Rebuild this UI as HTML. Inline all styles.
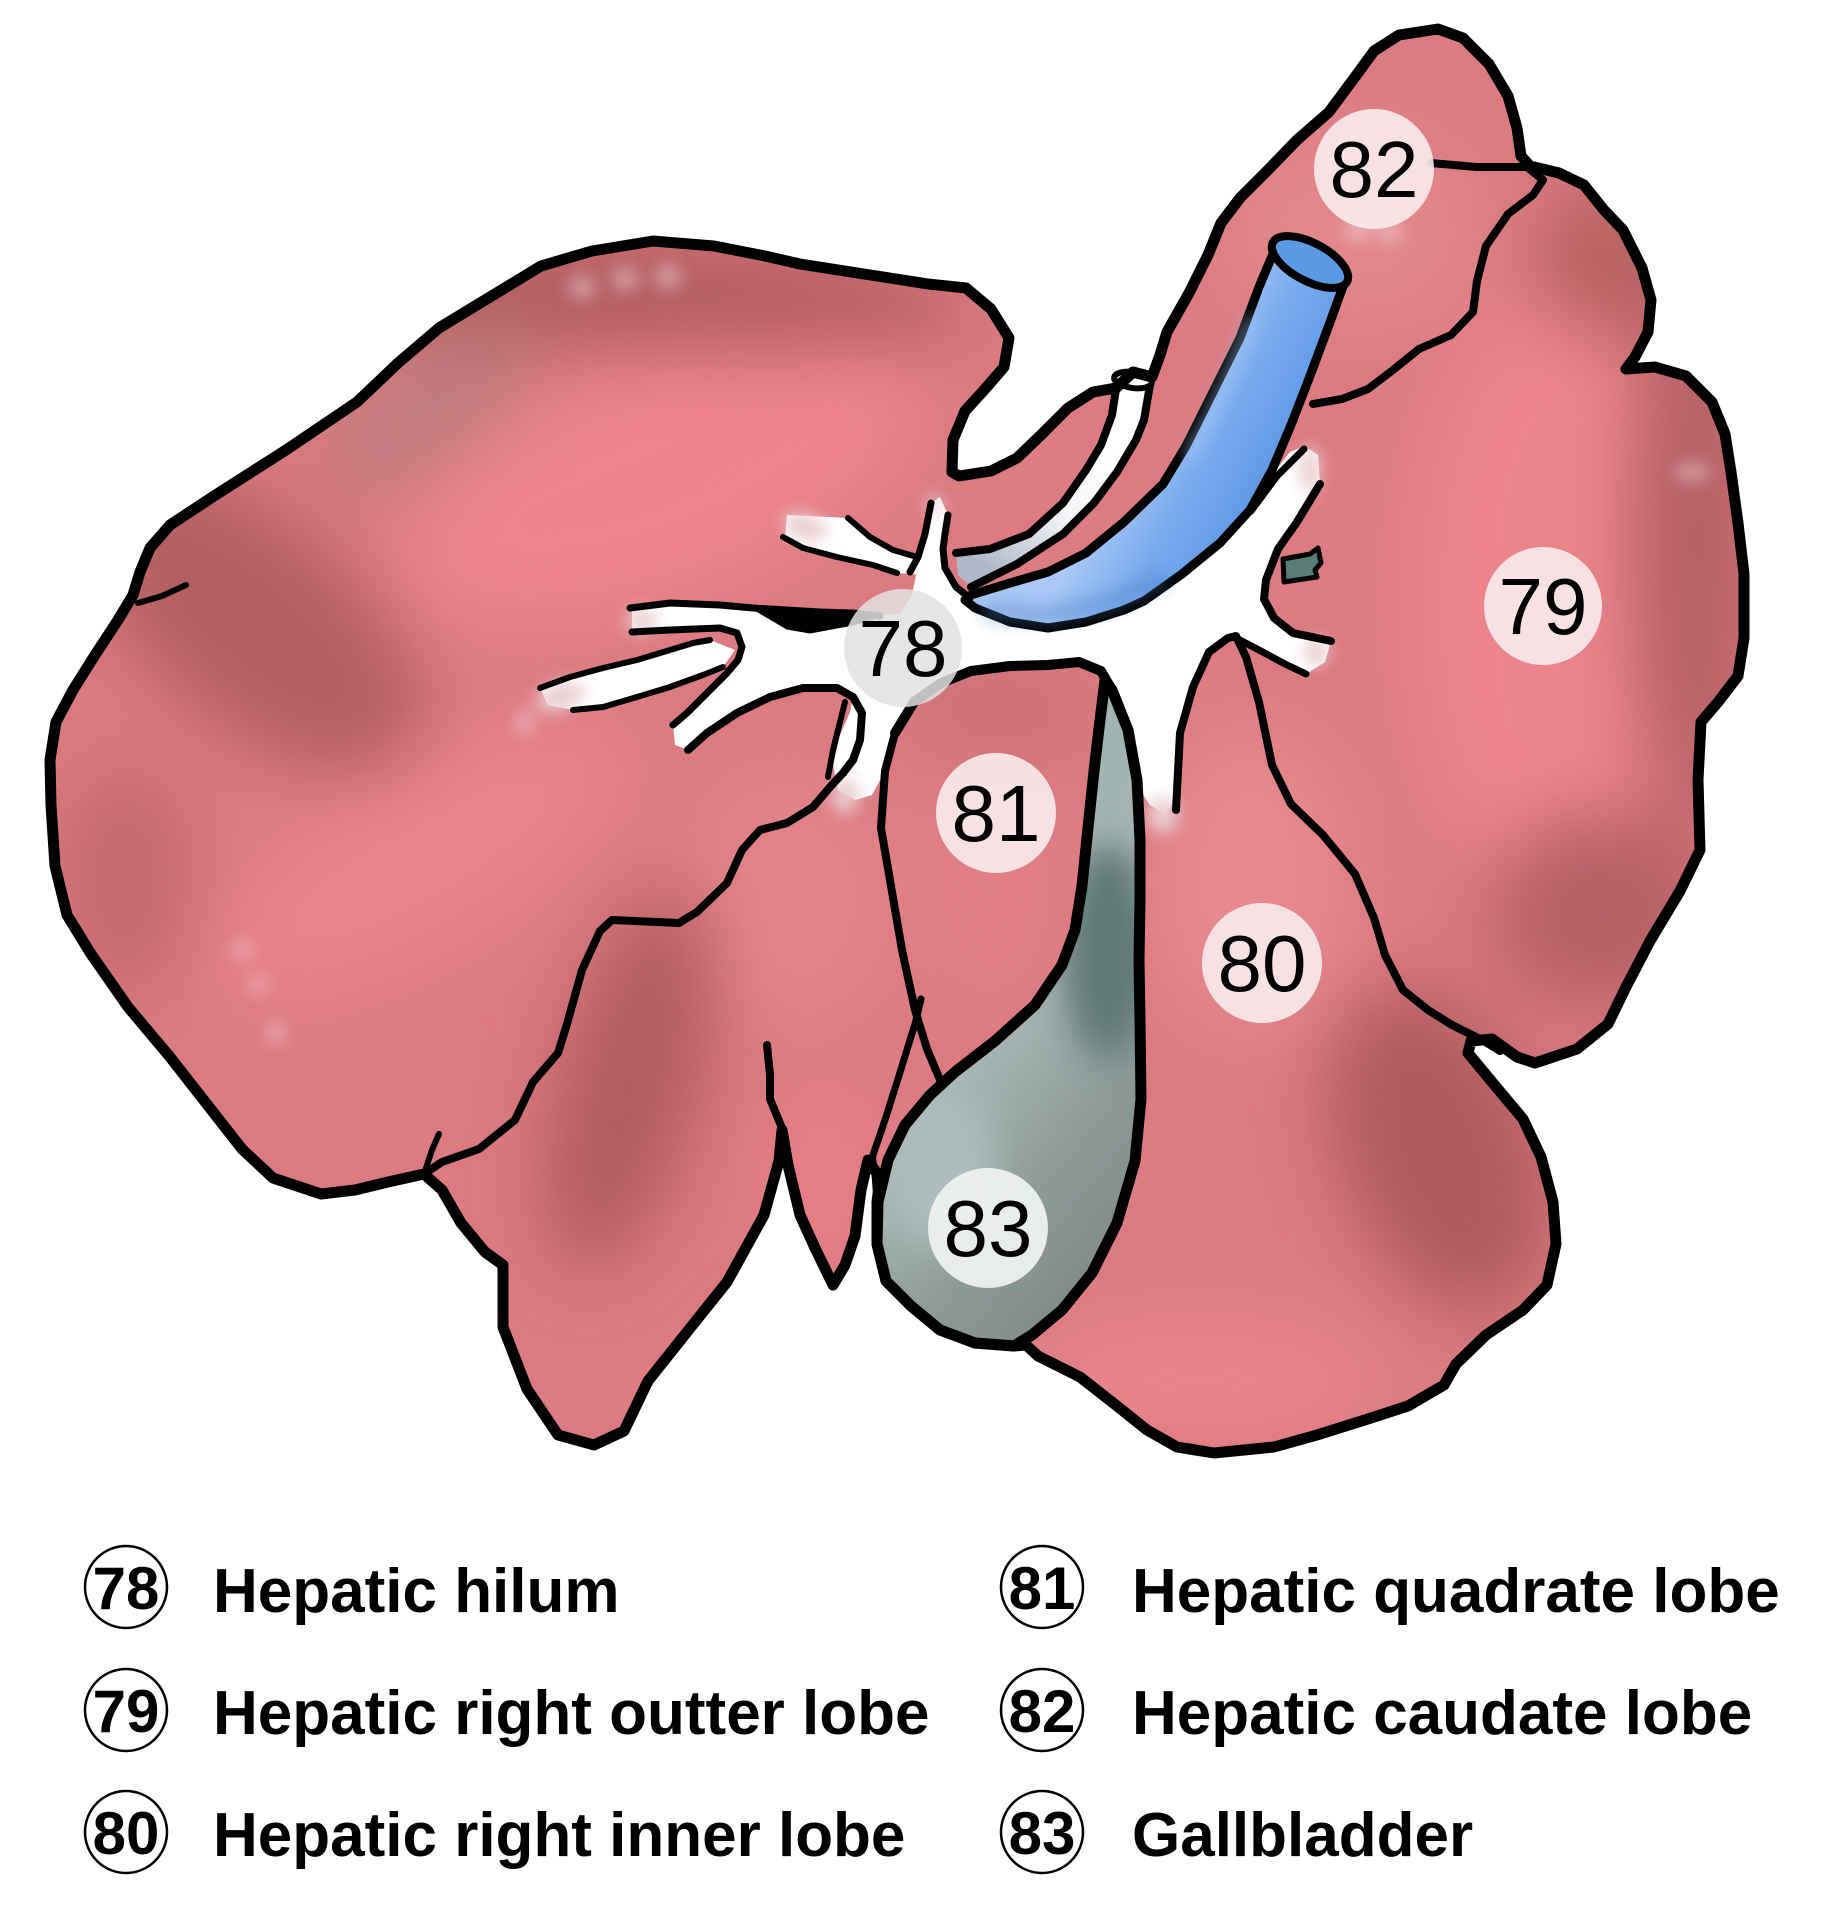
<!DOCTYPE html>
<html><head><meta charset="utf-8">
<style>
html,body{margin:0;padding:0;background:#fff;}
svg{display:block;}
</style></head>
<body>
<svg width="1844" height="1906" viewBox="0 0 1844 1906" xmlns="http://www.w3.org/2000/svg">
<defs>
  <clipPath id="silc">
    <polygon id="silp" points="51,805 50,760 56,722 73,690 95,655 118,620 133,595 140,572 150,548 170,525 214,496 286,450 357,402 398,363 439,328 490,297 541,266 592,251 653,241 714,246 765,256 800,264 864,274 928,284 966,288 991,309 1009,338 1004,367 985,389 965,411 953,440 952,472 959,476 991,471 1017,458 1042,434 1068,408 1093,392 1116,388 1133,372 1152,377 1160,355 1167,332 1189,293 1208,255 1221,223 1240,198 1266,172 1297,140 1329,112 1355,77 1374,51 1399,35 1438,29 1463,38 1489,64 1508,96 1517,128 1521,156 1530,166 1559,173 1584,185 1604,210 1623,230 1642,268 1651,300 1648,332 1635,357 1626,369 1655,367 1686,376 1712,402 1725,434 1731,472 1738,523 1744,574 1744,638 1738,676 1718,702 1701,722 1698,780 1700,850 1680,891 1650,941 1626,987 1608,1024 1577,1049 1535,1063 1517,1057 1492,1039 1471,1041 1468,1053 1492,1082 1523,1119 1541,1157 1553,1202 1556,1244 1547,1285 1523,1310 1486,1335 1456,1364 1444,1385 1408,1406 1371,1418 1317,1435 1274,1447 1214,1453 1177,1447 1147,1430 1117,1406 1080,1377 1038,1356 1026,1345 1014,1346 975,1343 940,1330 911,1306 886,1281 877,1244 877,1202 880,1178 868,1160 861,1190 855,1236 845,1265 833,1285 815,1248 800,1215 788,1165 782,1130 779,1161 764,1215 727,1282 691,1327 648,1381 624,1431 594,1445 558,1435 527,1389 503,1327 503,1265 485,1252 461,1223 442,1190 424,1174 388,1182 355,1190 321,1194 273,1178 242,1149 170,1057 128,1007 91,954 67,915 55,866"/>
  </clipPath>
  <clipPath id="gbc">
    <polygon points="1105,680 1100,720 1094,771 1088,828 1082,886 1075,930 1062,965 1035,1005 995,1041 955,1072 930,1095 905,1125 888,1160 878,1202 877,1244 886,1281 911,1306 940,1330 975,1343 1014,1346 1032,1335 1062,1310 1092,1273 1117,1223 1135,1161 1141,1099 1140,1020 1139,960 1140,900 1140,840 1137,780 1128,730 1112,690"/>
  </clipPath>
  <filter id="blur" filterUnits="userSpaceOnUse" x="0" y="0" width="1844" height="1906">
    <feGaussianBlur stdDeviation="38"/>
  </filter>
  <filter id="blur2" filterUnits="userSpaceOnUse" x="0" y="0" width="1844" height="1906">
    <feGaussianBlur stdDeviation="8"/>
  </filter>
  <filter id="blur3" filterUnits="userSpaceOnUse" x="0" y="0" width="1844" height="1906">
    <feGaussianBlur stdDeviation="18"/>
  </filter>
  <linearGradient id="veinG" gradientUnits="userSpaceOnUse" x1="1170" y1="380" x2="1300" y2="450">
    <stop offset="0" stop-color="#a9c8f5"/>
    <stop offset="0.45" stop-color="#79aaee"/>
    <stop offset="1" stop-color="#5b95e6"/>
  </linearGradient>
  <linearGradient id="ductG" gradientUnits="userSpaceOnUse" x1="1110" y1="440" x2="1010" y2="585">
    <stop offset="0" stop-color="#ffffff"/>
    <stop offset="0.5" stop-color="#f4f5f8"/>
    <stop offset="1" stop-color="#aeb8c8"/>
  </linearGradient>
  <linearGradient id="gbG" gradientUnits="userSpaceOnUse" x1="900" y1="1120" x2="1140" y2="1320">
    <stop offset="0" stop-color="#abbab8"/>
    <stop offset="0.45" stop-color="#8e9b99"/>
    <stop offset="1" stop-color="#7a8382"/>
  </linearGradient>
</defs>

<!-- liver base fill with shading -->
<g clip-path="url(#silc)">
  <rect x="0" y="0" width="1844" height="1500" fill="#dc7b82"/>
  <g filter="url(#blur)">
    <ellipse cx="660" cy="480" rx="270" ry="115" transform="rotate(-20 660 480)" fill="#ed848c"/>
    <ellipse cx="420" cy="860" rx="230" ry="85" transform="rotate(-30 420 860)" fill="#ea838b"/>
    <ellipse cx="790" cy="900" rx="100" ry="120" fill="#e3848a"/>
    <ellipse cx="825" cy="1180" rx="35" ry="90" fill="#ec8189"/>
    <ellipse cx="1550" cy="600" rx="140" ry="300" fill="#ec848b"/>
    <ellipse cx="1250" cy="880" rx="100" ry="150" fill="#e6898f"/>
    <ellipse cx="1200" cy="1380" rx="180" ry="60" fill="#e8848b"/>
    <ellipse cx="990" cy="870" rx="70" ry="150" fill="#e07e85"/>
    <ellipse cx="1350" cy="230" rx="130" ry="100" fill="#e1878a"/>
    <ellipse cx="640" cy="295" rx="330" ry="55" transform="rotate(3 640 295)" fill="#b05b5e"/>
    <ellipse cx="250" cy="620" rx="210" ry="100" transform="rotate(40 250 620)" fill="#b25e61"/>
    <ellipse cx="430" cy="410" rx="120" ry="55" transform="rotate(-35 430 410)" fill="#bd7b7c"/>
    <ellipse cx="125" cy="880" rx="70" ry="120" fill="#c46a70"/>
    <ellipse cx="630" cy="1080" rx="70" ry="200" transform="rotate(15 630 1080)" fill="#b05b5e"/>
    <ellipse cx="1690" cy="540" rx="60" ry="300" fill="#b25f63"/>
    <ellipse cx="1600" cy="910" rx="110" ry="100" fill="#b56065"/>
    <ellipse cx="1600" cy="260" rx="60" ry="80" fill="#b5605f"/>
    <ellipse cx="1440" cy="1150" rx="100" ry="170" transform="rotate(-20 1440 1150)" fill="#ad5a5d"/>
    <ellipse cx="1000" cy="715" rx="90" ry="35" fill="#c46a70"/>
  </g>
  <g filter="url(#blur2)" fill="#ffffff" opacity="0.35">
    <ellipse cx="582" cy="287" rx="14" ry="13"/>
    <ellipse cx="625" cy="279" rx="14" ry="13"/>
    <ellipse cx="668" cy="277" rx="14" ry="13"/>
    <ellipse cx="1693" cy="472" rx="18" ry="10"/>
    <ellipse cx="242" cy="950" rx="10" ry="9"/>
    <ellipse cx="258" cy="985" rx="9" ry="9"/>
    <ellipse cx="276" cy="1033" rx="9" ry="11"/>
    <ellipse cx="525" cy="722" rx="10" ry="12"/>
    <ellipse cx="1358" cy="230" rx="14" ry="12"/>
    <ellipse cx="1390" cy="232" rx="12" ry="12"/>
  </g>
</g>

<!-- white hilum -->
<polygon fill="#ffffff" points="632,610 670,605 720,607 787,612 853,615 900,614 912,595 918,565 925,534 931,503 940,497 948,515 945,534 943,549 945,568 956,587 975,603 1010,620 1048,626 1086,620 1124,608 1160,590 1200,562 1222,540 1245,512 1268,480 1290,452 1304,446 1318,455 1320,484 1297,522 1278,549 1266,580 1264,599 1274,618 1293,633 1331,641 1325,662 1306,674 1285,664 1259,650 1236,638 1228,638 1209,652 1193,687 1180,733 1176,800 1165,815 1150,805 1140,790 1137,780 1128,730 1112,690 1101,671 1079,662 1048,665 1010,666 971,671 941,683 914,702 895,733 885,771 872,795 855,800 838,790 833,765 840,735 850,712 853,697 837,688 803,688 770,697 737,713 707,733 688,750 675,745 673,725 687,713 707,693 727,673 738,660 742,647 737,633 720,628 670,630 632,632"/>
<polygon fill="#ffffff" points="540,688 570,677 603,668 637,660 670,650 693,643 710,640 735,650 723,667 703,675 670,687 637,697 603,707 573,710 548,705"/>
<polygon fill="#ffffff" points="787,515 848,518 870,537 893,550 917,557 925,575 897,573 873,565 837,557 803,548 785,537"/>
<g filter="url(#blur2)" fill="#e9cdd0">
  <ellipse cx="560" cy="697" rx="26" ry="13" transform="rotate(-18 560 697)"/>
  <ellipse cx="642" cy="621" rx="16" ry="12"/>
  <ellipse cx="805" cy="527" rx="22" ry="13" transform="rotate(20 805 527)"/>
  <ellipse cx="1163" cy="815" rx="16" ry="18"/>
  <ellipse cx="845" cy="795" rx="14" ry="18"/>
  <ellipse cx="1310" cy="470" rx="10" ry="24"/>
  <ellipse cx="1316" cy="652" rx="12" ry="14"/>
  <ellipse cx="935" cy="505" rx="8" ry="9"/>
</g>

<!-- white duct -->
<polygon fill="url(#ductG)" points="1116,389 1112,415 1101,445 1086,470 1063,503 1029,534 990,549 956,553 958,575 971,587 1017,564 1063,534 1094,503 1117,472 1136,440 1144,420 1150,385"/>
<polyline fill="none" stroke="#000" stroke-width="8" stroke-linecap="round" stroke-linejoin="round" points="1116,389 1112,415 1101,445 1086,470 1063,503 1029,534 990,549 956,553"/>
<polyline fill="none" stroke="#000" stroke-width="8" stroke-linecap="round" stroke-linejoin="round" points="1150,385 1144,420 1136,440 1117,472 1094,503 1063,534 1017,564 971,587"/>
<ellipse cx="1133" cy="380" rx="19" ry="8" transform="rotate(8 1133 380)" fill="#fff" stroke="#000" stroke-width="6"/>

<!-- blue vein -->
<polygon fill="url(#veinG)" stroke="#000" stroke-width="9" stroke-linejoin="round" points="1275,249 1259,287 1240,338 1224,370 1209,400 1186,446 1163,484 1124,522 1086,553 1048,572 1010,583 971,595 965,600 975,608 1010,622 1048,628 1086,622 1124,610 1144,601 1182,574 1220,543 1250,510 1272,470 1291,425 1310,376 1329,325 1345,281"/>
<polyline fill="none" stroke="#a9c9f6" stroke-width="10" stroke-linecap="round" opacity="0.7" filter="url(#blur2)" points="1252,320 1232,370 1210,420 1190,455"/>
<polyline fill="none" stroke="#4f7fc4" stroke-width="16" stroke-linecap="round" opacity="0.45" filter="url(#blur2)" points="990,612 1050,615 1110,602 1160,580"/>
<ellipse cx="1310" cy="262" rx="42" ry="19" transform="rotate(28 1310 262)" fill="#5d9ae6" stroke="#000" stroke-width="8"/>

<!-- gallbladder -->
<g>
  <polygon fill="url(#gbG)" points="1105,680 1100,720 1094,771 1088,828 1082,886 1075,930 1062,965 1035,1005 995,1041 955,1072 930,1095 905,1125 888,1160 878,1202 877,1244 886,1281 911,1306 940,1330 975,1343 1014,1346 1032,1335 1062,1310 1092,1273 1117,1223 1135,1161 1141,1099 1140,1020 1139,960 1140,900 1140,840 1137,780 1128,730 1112,690"/>
  <g clip-path="url(#gbc)" filter="url(#blur3)">
    <ellipse cx="1112" cy="760" rx="30" ry="80" fill="#9fb3b0"/>
    <ellipse cx="1108" cy="950" rx="45" ry="110" fill="#5f7874"/>
    <ellipse cx="940" cy="1170" rx="55" ry="80" fill="#aebdbb"/>
  </g>
  <polygon fill="none" stroke="#000" stroke-width="11" stroke-linejoin="round" points="1105,680 1100,720 1094,771 1088,828 1082,886 1075,930 1062,965 1035,1005 995,1041 955,1072 930,1095 905,1125 888,1160 878,1202 877,1244 886,1281 911,1306 940,1330 975,1343 1014,1346 1032,1335 1062,1310 1092,1273 1117,1223 1135,1161 1141,1099 1140,1020 1139,960 1140,900 1140,840 1137,780 1128,730 1112,690"/>
</g>

<polygon fill="#5b7b76" stroke="#000" stroke-width="5" stroke-linejoin="round" points="1283,559 1310,554 1318,548 1321,563 1315,570 1317,577 1284,582"/>

<use href="#silp" fill="none" stroke="#000" stroke-width="11" stroke-linejoin="round"/>

<g fill="none" stroke="#000" stroke-width="8" stroke-linecap="round" stroke-linejoin="round">
  <polyline points="1431,163 1476,167 1527,167 1543,180 1533,195 1508,214 1486,246 1477,281 1473,312 1451,335 1419,349 1393,370 1368,389 1342,399 1313,404"/>
  <polyline stroke-width="6" points="138,603 162,596 186,585"/>
  <polyline points="424,1174 442,1162 479,1149 515,1120 533,1082 558,1053 567,1024 582,970 600,931 612,920 679,923 697,912 727,883 742,850 760,830 787,823 813,807 830,787 843,773 853,760 860,740 862,713 853,697 837,688 803,688 770,697 737,713 707,733 688,750"/>
  <polyline stroke-width="6" points="424,1174 432,1150 439,1134"/>
  <polyline stroke-width="6" points="845,702 840,722 833,750 828,777"/>
  <polyline points="767,1045 770,1075 770,1099 782,1128"/>
  <polyline points="895,733 885,771 881,828 891,886 902,950 915,1010 927,1049 941,1082"/>
  <polyline stroke-width="7" points="921,999 915,1024 897,1082 885,1120 873,1155"/>
  <polyline stroke-width="6" points="873,1155 876,1194"/>
  <polyline stroke-width="10" points="895,733 914,702 941,683 971,671 1010,666 1048,665 1079,662 1101,671 1112,690 1128,730 1137,780 1140,840"/>
  <polyline points="1176,810 1180,733 1193,687 1209,652 1228,638 1236,636 1246,657 1259,702 1272,765 1291,804 1323,835 1355,874 1374,918 1385,955 1403,990 1428,1010 1452,1025 1482,1040 1500,1051"/>
  <polyline stroke-width="7" points="1236,638 1259,650 1285,664 1306,674"/>
  <polyline points="1320,484 1297,522 1278,549 1266,580 1264,599 1274,618 1293,633 1331,641"/>
  <polyline stroke-width="7" points="1251,511 1277,476 1304,449"/>
  <polyline stroke-width="7" points="931,503 925,534 918,557 910,572"/>
  <polyline stroke-width="7" points="948,515 945,534 943,549 945,568 956,587 970,598"/>
  <polyline stroke-width="6" points="848,518 870,537 893,550 917,557"/>
  <polyline stroke-width="6" points="783,537 803,548 837,557 873,565 897,573"/>
  <polyline stroke-width="7" points="630,608 670,603 720,605 753,608 787,610 820,612 853,613 880,616"/>
  <polygon stroke-width="3" fill="#000" points="753,608 853,612 880,616 853,624 810,632 787,628"/>
  <polyline stroke-width="7" points="632,632 670,630 720,628 737,633 742,647 738,660 727,673 707,693 687,713 673,725"/>
  <polyline stroke-width="6" points="540,688 570,677 603,668 637,660 670,650 693,643 710,640"/>
  <polyline stroke-width="6" points="573,710 603,707 637,697 670,687 703,675 723,667"/>
</g>

<g font-family="'Liberation Sans', Arial, sans-serif" font-size="80" text-anchor="middle" fill="#000">
  <circle cx="1374" cy="169" r="60" fill="#f8e9ea" opacity="0.92"/>
  <text x="1374" y="197">82</text>
  <circle cx="1543" cy="606" r="59" fill="#f8e9ea" opacity="0.92"/>
  <text x="1543" y="634">79</text>
  <circle cx="903" cy="648" r="59" fill="#e2e2e2" opacity="0.85"/>
  <text x="903" y="676">78</text>
  <circle cx="996" cy="813" r="60" fill="#f8e9ea" opacity="0.92"/>
  <text x="996" y="841">81</text>
  <circle cx="1262" cy="963" r="60" fill="#f8e9ea" opacity="0.92"/>
  <text x="1262" y="991">80</text>
  <circle cx="988" cy="1228" r="60" fill="#eef0f0" opacity="0.95"/>
  <text x="988" y="1256">83</text>
</g>

<g font-family="'Liberation Sans', Arial, sans-serif" font-weight="bold" fill="#000">
  <g fill="none" stroke="#000" stroke-width="2.5">
    <circle cx="126" cy="1587" r="41"/>
    <circle cx="126" cy="1710" r="41"/>
    <circle cx="126" cy="1832" r="41"/>
    <circle cx="1042" cy="1587" r="41"/>
    <circle cx="1042" cy="1710" r="41"/>
    <circle cx="1042" cy="1832" r="41"/>
  </g>
  <g font-size="60" text-anchor="middle">
    <text x="126" y="1609">78</text>
    <text x="126" y="1732">79</text>
    <text x="126" y="1854">80</text>
    <text x="1042" y="1609">81</text>
    <text x="1042" y="1732">82</text>
    <text x="1042" y="1854">83</text>
  </g>
  <g font-size="62">
    <text x="213" y="1612">Hepatic hilum</text>
    <text x="213" y="1734">Hepatic right outter lobe</text>
    <text x="213" y="1856">Hepatic right inner lobe</text>
    <text x="1132" y="1612">Hepatic quadrate lobe</text>
    <text x="1132" y="1734">Hepatic caudate lobe</text>
    <text x="1132" y="1856">Gallbladder</text>
  </g>
</g>
</svg>
</body></html>
